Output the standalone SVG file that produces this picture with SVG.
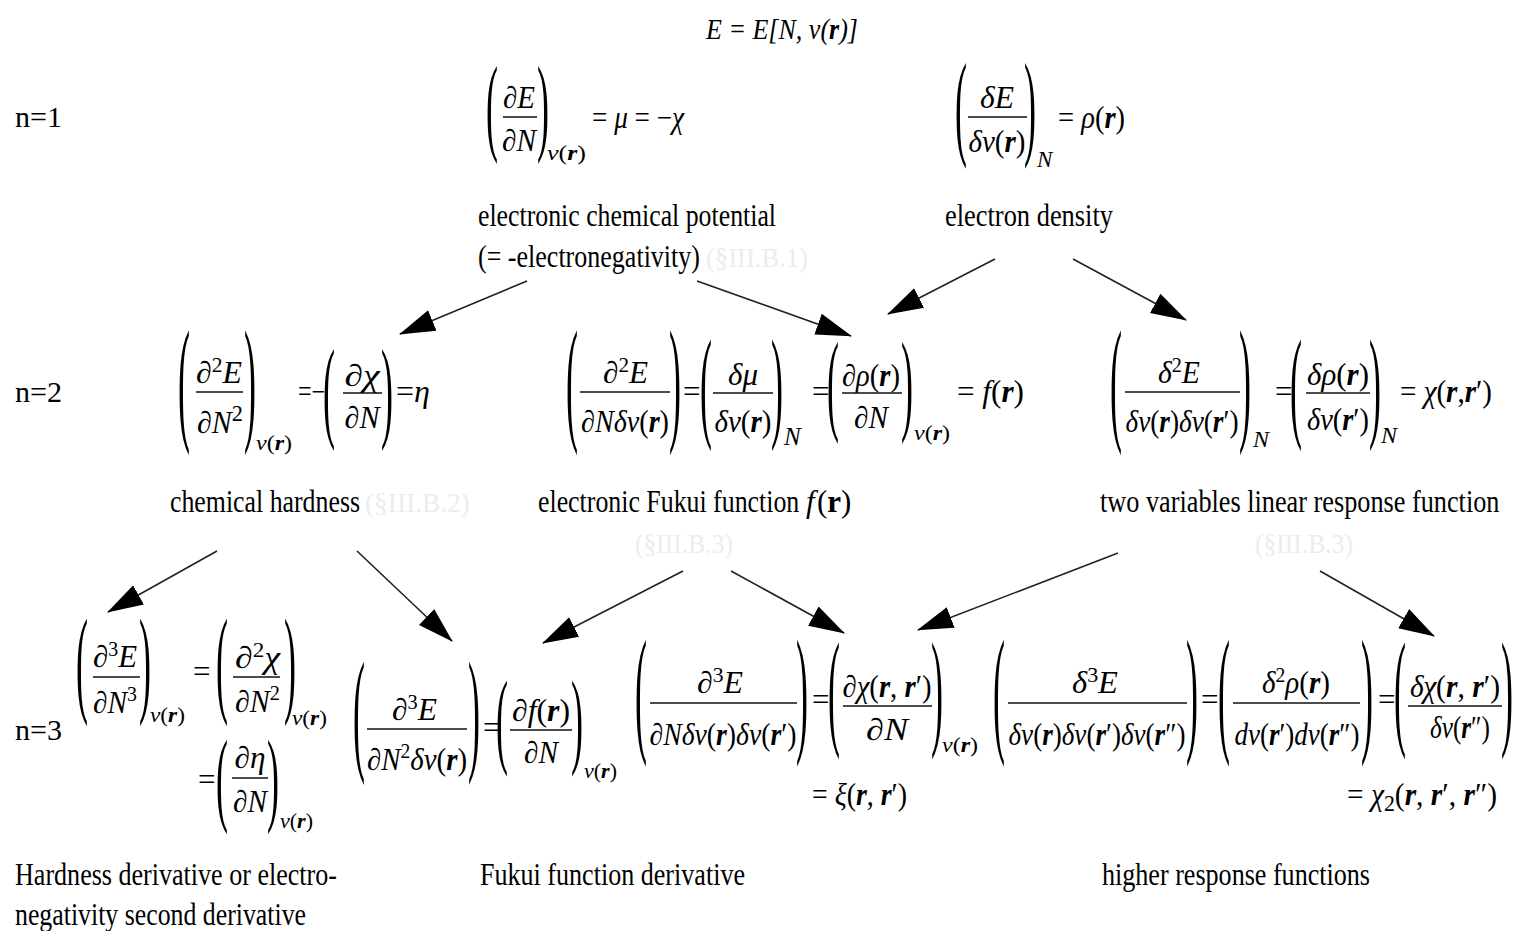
<svg xmlns="http://www.w3.org/2000/svg" width="1523" height="931" viewBox="0 0 1523 931">
<style>
text{font-family:"Liberation Serif","Times New Roman",serif;fill:#000}
.t{font-size:31px}
.n{font-size:30px}
.m{font-size:31px;font-style:italic}
.s{font-size:21px;font-style:italic}
.u{font-style:normal}
.b{font-weight:bold}
.p{font-size:36px}
.f{fill:#ececec;font-size:27px}
.bar{stroke:#111;stroke-width:1.6}
.con line{stroke:#222;stroke-width:1.6;marker-end:url(#ah)}
</style>
<defs>
<marker id="ah" markerUnits="userSpaceOnUse" markerWidth="36" markerHeight="24" refX="35" refY="11" orient="auto" viewBox="0 0 36 22">
<path d="M0,0 L36,11 L0,22 z" fill="#000"/>
</marker>
</defs>
<rect width="1523" height="931" fill="#fff"/>

<g id="title"><text class="m" x="706" y="39" textLength="152" lengthAdjust="spacingAndGlyphs" style="font-size:29px">E = E[N, v(<tspan class="b">r</tspan>)]</text></g>

<g id="levels">
<text class="n" x="15" y="127" textLength="47" lengthAdjust="spacingAndGlyphs">n=1</text>
<text class="n" x="15" y="402" textLength="47" lengthAdjust="spacingAndGlyphs">n=2</text>
<text class="n" x="15" y="740" textLength="47" lengthAdjust="spacingAndGlyphs">n=3</text>
</g>

<g id="mu">
<text class="p" transform="translate(486,160) scale(1,3.0)" y="-6.4">(</text>
<text class="m" x="519" y="108" text-anchor="middle" textLength="32" lengthAdjust="spacingAndGlyphs"><tspan class="u">∂</tspan>E</text>
<line class="bar" x1="503" y1="117" x2="537" y2="117"/>
<text class="m" x="519" y="151" text-anchor="middle" textLength="34" lengthAdjust="spacingAndGlyphs"><tspan class="u">∂</tspan>N</text>
<text class="p" transform="translate(537,160) scale(1,3.0)" y="-6.4">)</text>
<text class="s" x="547" y="160" textLength="39" lengthAdjust="spacingAndGlyphs">v<tspan class="u">(</tspan><tspan class="b">r</tspan><tspan class="u">)</tspan></text>
<text class="m" x="592" y="128" textLength="92" lengthAdjust="spacingAndGlyphs"><tspan class="u">= </tspan>μ<tspan class="u"> = −</tspan>χ</text>
<text class="t" x="478" y="226" textLength="298" lengthAdjust="spacingAndGlyphs">electronic chemical potential</text>
<text class="t" x="478" y="267" textLength="222" lengthAdjust="spacingAndGlyphs">(= -electronegativity)</text>
<text class="f" x="706" y="267" textLength="102" lengthAdjust="spacingAndGlyphs">(§III.B.1)</text>
</g>

<g id="rho">
<text class="p" transform="translate(955,165) scale(1,3.26)" y="-6.4">(</text>
<text class="m" x="997" y="108" text-anchor="middle" textLength="34" lengthAdjust="spacingAndGlyphs">δE</text>
<line class="bar" x1="968" y1="117" x2="1027" y2="117"/>
<text class="m" x="997" y="152" text-anchor="middle" textLength="57" lengthAdjust="spacingAndGlyphs">δv<tspan class="u">(</tspan><tspan class="b">r</tspan><tspan class="u">)</tspan></text>
<text class="p" transform="translate(1024,165) scale(1,3.26)" y="-6.4">)</text>
<text class="s" x="1037" y="167" style="font-size:23px">N</text>
<text class="m" x="1058" y="128" textLength="67" lengthAdjust="spacingAndGlyphs"><tspan class="u">= </tspan>ρ<tspan class="u">(</tspan><tspan class="b">r</tspan><tspan class="u">)</tspan></text>
<text class="t" x="945" y="226" textLength="168" lengthAdjust="spacingAndGlyphs">electron density</text>
</g>

<g id="eta">
<text class="p" transform="translate(178,450) scale(1,3.81)" y="-6.4">(</text>
<text class="m" x="196" y="383" textLength="46" lengthAdjust="spacingAndGlyphs"><tspan class="u">∂</tspan><tspan class="u" dy="-11" style="font-size:21px">2</tspan><tspan dy="11">E</tspan></text>
<line class="bar" x1="196" y1="392" x2="243" y2="392"/>
<text class="m" x="197" y="433" textLength="46" lengthAdjust="spacingAndGlyphs"><tspan class="u">∂</tspan>N<tspan class="u" dy="-12" style="font-size:23px">2</tspan></text>
<text class="p" transform="translate(244,450) scale(1,3.81)" y="-6.4">)</text>
<text class="s" x="256" y="450" textLength="36" lengthAdjust="spacingAndGlyphs">v<tspan class="u">(</tspan><tspan class="b">r</tspan><tspan class="u">)</tspan></text>
<text class="m u" x="298" y="402" textLength="27" lengthAdjust="spacingAndGlyphs" style="font-style:normal">=−</text>
<text class="p" transform="translate(323,447) scale(1,3.09)" y="-6.4">(</text>
<text class="m" x="362" y="386" text-anchor="middle" textLength="35" lengthAdjust="spacingAndGlyphs"><tspan class="u">∂</tspan>χ</text>
<line class="bar" x1="343" y1="393" x2="382" y2="393"/>
<text class="m" x="362" y="428" text-anchor="middle" textLength="35" lengthAdjust="spacingAndGlyphs"><tspan class="u">∂</tspan>N</text>
<text class="p" transform="translate(381,447) scale(1,3.09)" y="-6.4">)</text>
<text class="m" x="396" y="402" textLength="34" lengthAdjust="spacingAndGlyphs"><tspan class="u">=</tspan>η</text>
<text class="t" x="170" y="512" textLength="190" lengthAdjust="spacingAndGlyphs">chemical hardness</text>
<text class="f" x="365" y="512" textLength="105" lengthAdjust="spacingAndGlyphs">(§III.B.2)</text>
</g>

<g id="fukui">
<text class="p" transform="translate(566,450) scale(1,3.81)" y="-6.4">(</text>
<text class="m" x="603" y="383" textLength="45" lengthAdjust="spacingAndGlyphs"><tspan class="u">∂</tspan><tspan class="u" dy="-11" style="font-size:21px">2</tspan><tspan dy="11">E</tspan></text>
<line class="bar" x1="580" y1="392" x2="670" y2="392"/>
<text class="m" x="625" y="432" text-anchor="middle" textLength="88" lengthAdjust="spacingAndGlyphs"><tspan class="u">∂</tspan>Nδv<tspan class="u">(</tspan><tspan class="b">r</tspan><tspan class="u">)</tspan></text>
<text class="p" transform="translate(669,450) scale(1,3.81)" y="-6.4">)</text>
<text class="m u" x="683" y="402" style="font-style:normal">=</text>
<text class="p" transform="translate(700,447) scale(1,3.42)" y="-6.4">(</text>
<text class="m" x="743" y="385" text-anchor="middle" textLength="30" lengthAdjust="spacingAndGlyphs">δμ</text>
<line class="bar" x1="713" y1="393" x2="773" y2="393"/>
<text class="m" x="743" y="432" text-anchor="middle" textLength="57" lengthAdjust="spacingAndGlyphs">δv<tspan class="u">(</tspan><tspan class="b">r</tspan><tspan class="u">)</tspan></text>
<text class="p" transform="translate(771,447) scale(1,3.42)" y="-6.4">)</text>
<text class="s" x="784" y="445" style="font-size:25px">N</text>
<text class="m u" x="812" y="402" style="font-style:normal">=</text>
<text class="p" transform="translate(827,440) scale(1,3.09)" y="-6.4">(</text>
<text class="m" x="871" y="386" text-anchor="middle" textLength="58" lengthAdjust="spacingAndGlyphs"><tspan class="u">∂</tspan>ρ<tspan class="u">(</tspan><tspan class="b">r</tspan><tspan class="u">)</tspan></text>
<line class="bar" x1="842" y1="393" x2="902" y2="393"/>
<text class="m" x="871" y="428" text-anchor="middle" textLength="34" lengthAdjust="spacingAndGlyphs"><tspan class="u">∂</tspan>N</text>
<text class="p" transform="translate(901,440) scale(1,3.09)" y="-6.4">)</text>
<text class="s" x="914" y="440" textLength="36" lengthAdjust="spacingAndGlyphs">v<tspan class="u">(</tspan><tspan class="b">r</tspan><tspan class="u">)</tspan></text>
<text class="m" x="957" y="402" textLength="67" lengthAdjust="spacingAndGlyphs"><tspan class="u">= </tspan>f<tspan class="u">(</tspan><tspan class="b">r</tspan><tspan class="u">)</tspan></text>
<text class="t" transform="translate(538,512) scale(0.834,1)">electronic Fukui function</text>
<text class="t" x="806" y="512" font-style="italic">f</text>
<text class="t" x="817" y="512">(<tspan class="b">r</tspan>)</text>
<text class="f" x="635" y="553" textLength="98" lengthAdjust="spacingAndGlyphs">(§III.B.3)</text>
</g>

<g id="chi">
<text class="p" transform="translate(1110,450) scale(1,3.81)" y="-6.4">(</text>
<text class="m" x="1158" y="383" textLength="42" lengthAdjust="spacingAndGlyphs">δ<tspan class="u" dy="-11" style="font-size:21px">2</tspan><tspan dy="11">E</tspan></text>
<line class="bar" x1="1125" y1="392" x2="1240" y2="392"/>
<text class="m" x="1182" y="432" text-anchor="middle" textLength="113" lengthAdjust="spacingAndGlyphs">δv<tspan class="u">(</tspan><tspan class="b">r</tspan><tspan class="u">)</tspan>δv<tspan class="u">(</tspan><tspan class="b">r</tspan><tspan class="u">′)</tspan></text>
<text class="p" transform="translate(1239,450) scale(1,3.81)" y="-6.4">)</text>
<text class="s" x="1253" y="447" style="font-size:24px">N</text>
<text class="m u" x="1275" y="402" style="font-style:normal">=</text>
<text class="p" transform="translate(1290,447) scale(1,3.39)" y="-6.4">(</text>
<text class="m" x="1338" y="385" text-anchor="middle" textLength="62" lengthAdjust="spacingAndGlyphs">δρ<tspan class="u">(</tspan><tspan class="b">r</tspan><tspan class="u">)</tspan></text>
<line class="bar" x1="1306" y1="393" x2="1370" y2="393"/>
<text class="m" x="1338" y="430" text-anchor="middle" textLength="62" lengthAdjust="spacingAndGlyphs">δv<tspan class="u">(</tspan><tspan class="b">r</tspan><tspan class="u">′)</tspan></text>
<text class="p" transform="translate(1369,447) scale(1,3.39)" y="-6.4">)</text>
<text class="s" x="1381" y="443" style="font-size:24px">N</text>
<text class="m" x="1400" y="402" textLength="92" lengthAdjust="spacingAndGlyphs"><tspan class="u">= </tspan>χ<tspan class="u">(</tspan><tspan class="b">r</tspan><tspan class="u">,</tspan><tspan class="b">r</tspan><tspan class="u">′)</tspan></text>
<text class="t" transform="translate(1100,512) scale(0.847,1)">two variables linear response function</text>
<text class="f" x="1255" y="553" textLength="98" lengthAdjust="spacingAndGlyphs">(§III.B.3)</text>
</g>

<g id="dEta">
<text class="p" transform="translate(76,722) scale(1,3.32)" y="-6.4">(</text>
<text class="m" x="93" y="667" textLength="44" lengthAdjust="spacingAndGlyphs"><tspan class="u">∂</tspan><tspan class="u" dy="-11" style="font-size:20px">3</tspan><tspan dy="11">E</tspan></text>
<line class="bar" x1="93" y1="677" x2="140" y2="677"/>
<text class="m" x="93" y="713" textLength="44" lengthAdjust="spacingAndGlyphs"><tspan class="u">∂</tspan>N<tspan class="u" dy="-12" style="font-size:21px">3</tspan></text>
<text class="p" transform="translate(139,722) scale(1,3.32)" y="-6.4">)</text>
<text class="s" x="150" y="722" textLength="35" lengthAdjust="spacingAndGlyphs">v<tspan class="u">(</tspan><tspan class="b">r</tspan><tspan class="u">)</tspan></text>
<text class="m u" x="193" y="682" style="font-style:normal">=</text>
<text class="p" transform="translate(216,722) scale(1,3.32)" y="-6.4">(</text>
<text class="m" x="235" y="668" textLength="45" lengthAdjust="spacingAndGlyphs"><tspan class="u">∂</tspan><tspan class="u" dy="-11" style="font-size:20px">2</tspan><tspan dy="11">χ</tspan></text>
<line class="bar" x1="233" y1="677" x2="280" y2="677"/>
<text class="m" x="235" y="712" textLength="45" lengthAdjust="spacingAndGlyphs"><tspan class="u">∂</tspan>N<tspan class="u" dy="-12" style="font-size:21px">2</tspan></text>
<text class="p" transform="translate(284,722) scale(1,3.32)" y="-6.4">)</text>
<text class="s" x="292" y="725" textLength="35" lengthAdjust="spacingAndGlyphs">v<tspan class="u">(</tspan><tspan class="b">r</tspan><tspan class="u">)</tspan></text>
<text class="m u" x="198" y="790" style="font-style:normal">=</text>
<text class="p" transform="translate(216,830) scale(1,2.87)" y="-6.4">(</text>
<text class="m" x="250" y="768" text-anchor="middle" textLength="31" lengthAdjust="spacingAndGlyphs"><tspan class="u">∂</tspan>η</text>
<line class="bar" x1="232" y1="778" x2="268" y2="778"/>
<text class="m" x="250" y="812" text-anchor="middle" textLength="34" lengthAdjust="spacingAndGlyphs"><tspan class="u">∂</tspan>N</text>
<text class="p" transform="translate(267,830) scale(1,2.87)" y="-6.4">)</text>
<text class="s" x="280" y="828" textLength="33" lengthAdjust="spacingAndGlyphs">v<tspan class="u">(</tspan><tspan class="b">r</tspan><tspan class="u">)</tspan></text>
<text class="t" x="15" y="885" textLength="322" lengthAdjust="spacingAndGlyphs">Hardness derivative or electro-</text>
<text class="t" x="15" y="925" textLength="291" lengthAdjust="spacingAndGlyphs">negativity second derivative</text>
</g>

<g id="dFukui">
<text class="p" transform="translate(353,780) scale(1,3.75)" y="-6.4">(</text>
<text class="m" x="392" y="720" textLength="45" lengthAdjust="spacingAndGlyphs"><tspan class="u">∂</tspan><tspan class="u" dy="-11" style="font-size:20px">3</tspan><tspan dy="11">E</tspan></text>
<line class="bar" x1="367" y1="729" x2="467" y2="729"/>
<text class="m" x="417" y="770" text-anchor="middle" textLength="100" lengthAdjust="spacingAndGlyphs"><tspan class="u">∂</tspan>N<tspan class="u" dy="-12" style="font-size:21px">2</tspan><tspan dy="12">δv</tspan><tspan class="u">(</tspan><tspan class="b">r</tspan><tspan class="u">)</tspan></text>
<text class="p" transform="translate(468,780) scale(1,3.75)" y="-6.4">)</text>
<text class="m u" x="483" y="738" style="font-style:normal">=</text>
<text class="p" transform="translate(496,773) scale(1,2.96)" y="-6.4">(</text>
<text class="m" x="541" y="721" text-anchor="middle" textLength="58" lengthAdjust="spacingAndGlyphs"><tspan class="u">∂</tspan>f<tspan class="u">(</tspan><tspan class="b">r</tspan><tspan class="u">)</tspan></text>
<line class="bar" x1="510" y1="730" x2="572" y2="730"/>
<text class="m" x="541" y="763" text-anchor="middle" textLength="34" lengthAdjust="spacingAndGlyphs"><tspan class="u">∂</tspan>N</text>
<text class="p" transform="translate(571,773) scale(1,2.96)" y="-6.4">)</text>
<text class="s" x="584" y="778" textLength="33" lengthAdjust="spacingAndGlyphs">v<tspan class="u">(</tspan><tspan class="b">r</tspan><tspan class="u">)</tspan></text>
<text class="t" x="480" y="885" textLength="265" lengthAdjust="spacingAndGlyphs">Fukui function derivative</text>
</g>

<g id="xi">
<text class="p" transform="translate(635,762) scale(1,3.91)" y="-6.4">(</text>
<text class="m" x="697" y="693" textLength="46" lengthAdjust="spacingAndGlyphs"><tspan class="u">∂</tspan><tspan class="u" dy="-11" style="font-size:21px">3</tspan><tspan dy="11">E</tspan></text>
<line class="bar" x1="650" y1="703" x2="797" y2="703"/>
<text class="m" x="723" y="745" text-anchor="middle" textLength="147" lengthAdjust="spacingAndGlyphs"><tspan class="u">∂</tspan>Nδv<tspan class="u">(</tspan><tspan class="b">r</tspan><tspan class="u">)</tspan>δv<tspan class="u">(</tspan><tspan class="b">r</tspan><tspan class="u">′)</tspan></text>
<text class="p" transform="translate(796,762) scale(1,3.91)" y="-6.4">)</text>
<text class="m u" x="812" y="710" style="font-style:normal">=</text>
<text class="p" transform="translate(828,755) scale(1,3.58)" y="-6.4">(</text>
<text class="m" x="887" y="697" text-anchor="middle" textLength="89" lengthAdjust="spacingAndGlyphs"><tspan class="u">∂</tspan>χ<tspan class="u">(</tspan><tspan class="b">r</tspan><tspan class="u">, </tspan><tspan class="b">r</tspan><tspan class="u">′)</tspan></text>
<line class="bar" x1="843" y1="706" x2="932" y2="706"/>
<text class="m" x="887" y="740" text-anchor="middle" textLength="42" lengthAdjust="spacingAndGlyphs"><tspan class="u">∂</tspan>N</text>
<text class="p" transform="translate(931,755) scale(1,3.58)" y="-6.4">)</text>
<text class="s" x="942" y="752" textLength="36" lengthAdjust="spacingAndGlyphs">v<tspan class="u">(</tspan><tspan class="b">r</tspan><tspan class="u">)</tspan></text>
<text class="m" x="812" y="805" textLength="95" lengthAdjust="spacingAndGlyphs"><tspan class="u">= </tspan>ξ<tspan class="u">(</tspan><tspan class="b">r</tspan><tspan class="u">, </tspan><tspan class="b">r</tspan><tspan class="u">′)</tspan></text>
</g>

<g id="chi2">
<text class="p" transform="translate(993,762) scale(1,3.91)" y="-6.4">(</text>
<text class="m" x="1072" y="693" textLength="46" lengthAdjust="spacingAndGlyphs">δ<tspan class="u" dy="-11" style="font-size:21px">3</tspan><tspan dy="11">E</tspan></text>
<line class="bar" x1="1008" y1="703" x2="1187" y2="703"/>
<text class="m" x="1097" y="745" text-anchor="middle" textLength="177" lengthAdjust="spacingAndGlyphs">δv<tspan class="u">(</tspan><tspan class="b">r</tspan><tspan class="u">)</tspan>δv<tspan class="u">(</tspan><tspan class="b">r</tspan><tspan class="u">′)</tspan>δv<tspan class="u">(</tspan><tspan class="b">r</tspan><tspan class="u">″)</tspan></text>
<text class="p" transform="translate(1186,762) scale(1,3.91)" y="-6.4">)</text>
<text class="m u" x="1201" y="710" style="font-style:normal">=</text>
<text class="p" transform="translate(1218,762) scale(1,3.91)" y="-6.4">(</text>
<text class="m" x="1262" y="693" textLength="68" lengthAdjust="spacingAndGlyphs">δ<tspan class="u" dy="-11" style="font-size:21px">2</tspan><tspan dy="11">ρ</tspan><tspan class="u">(</tspan><tspan class="b">r</tspan><tspan class="u">)</tspan></text>
<line class="bar" x1="1233" y1="703" x2="1360" y2="703"/>
<text class="m" x="1297" y="745" text-anchor="middle" textLength="125" lengthAdjust="spacingAndGlyphs">dv<tspan class="u">(</tspan><tspan class="b">r</tspan><tspan class="u">′)</tspan>dv<tspan class="u">(</tspan><tspan class="b">r</tspan><tspan class="u">″)</tspan></text>
<text class="p" transform="translate(1361,762) scale(1,3.91)" y="-6.4">)</text>
<text class="m u" x="1378" y="710" style="font-style:normal">=</text>
<text class="p" transform="translate(1394,755) scale(1,3.58)" y="-6.4">(</text>
<text class="m" x="1455" y="697" text-anchor="middle" textLength="90" lengthAdjust="spacingAndGlyphs">δχ<tspan class="u">(</tspan><tspan class="b">r</tspan><tspan class="u">, </tspan><tspan class="b">r</tspan><tspan class="u">′)</tspan></text>
<line class="bar" x1="1408" y1="706" x2="1502" y2="706"/>
<text class="m" x="1460" y="738" text-anchor="middle" textLength="60" lengthAdjust="spacingAndGlyphs">δv<tspan class="u">(</tspan><tspan class="b">r</tspan><tspan class="u">″)</tspan></text>
<text class="p" transform="translate(1501,755) scale(1,3.58)" y="-6.4">)</text>
<text class="m" x="1347" y="805" textLength="150" lengthAdjust="spacingAndGlyphs"><tspan class="u">= </tspan>χ<tspan class="u" dy="6" style="font-size:23px">2</tspan><tspan class="u" dy="-6">(</tspan><tspan class="b">r</tspan><tspan class="u">, </tspan><tspan class="b">r</tspan><tspan class="u">′, </tspan><tspan class="b">r</tspan><tspan class="u">″)</tspan></text>
<text class="t" x="1102" y="885" textLength="268" lengthAdjust="spacingAndGlyphs">higher response functions</text>
</g>

<g id="connectors" class="con">
<line x1="527" y1="281" x2="400" y2="334"/>
<line x1="697" y1="281" x2="851" y2="336"/>
<line x1="995" y1="259" x2="888" y2="314"/>
<line x1="1073" y1="259" x2="1186" y2="320"/>
<line x1="217" y1="551" x2="108" y2="612"/>
<line x1="357" y1="551" x2="452" y2="641"/>
<line x1="683" y1="571" x2="543" y2="643"/>
<line x1="731" y1="571" x2="844" y2="633"/>
<line x1="1118" y1="553" x2="918" y2="630"/>
<line x1="1320" y1="571" x2="1434" y2="636"/>
</g>
</svg>
